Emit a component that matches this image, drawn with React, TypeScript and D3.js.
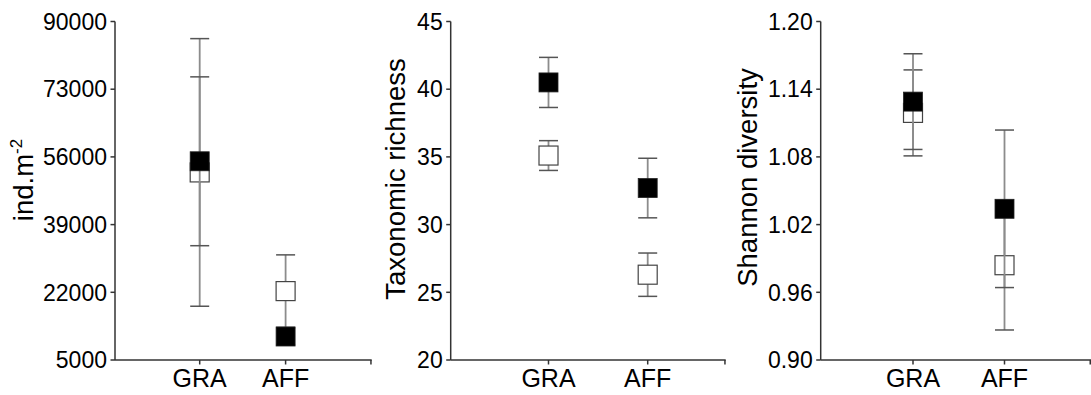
import React from "react";
import * as d3 from "d3";

const categories = ["GRA", "AFF"];

// Panel 1: density (ind.m-2)
const densityTicks = [5000, 22000, 39000, 56000, 73000, 90000];
const densityBlackMean = [54900, 10900];
const densityBlackErr = [21200, 2000];
const densityWhiteMean = [52100, 22300];
const densityWhiteErr = [33600, 9100];

// Panel 2: taxonomic richness
const richnessTicks = [20, 25, 30, 35, 40, 45];
const richnessBlackMean = [40.5, 32.7];
const richnessBlackErr = [1.85, 2.2];
const richnessWhiteMean = [35.1, 26.3];
const richnessWhiteErr = [1.1, 1.6];

// Panel 3: Shannon diversity
const shannonTicks = [0.9, 0.96, 1.02, 1.08, 1.14, 1.2];
const shannonBlackMean = [1.129, 1.034];
const shannonBlackErr = [0.0424, 0.0698];
const shannonWhiteMean = [1.119, 0.984];
const shannonWhiteErr = [0.0381, 0.0574];

const FONT = "'Liberation Sans', Arial, Helvetica, sans-serif";
const Y_TOP = 21.5;
const Y_BOT = 360;
const SQ = 19;
const CAP = 19;

type PanelProps = {
  axisX: number;
  axisEnd: number;
  catRange: [number, number];
  ticks: number[];
  fmt: (v: number) => string;
  blackMean: number[];
  blackErr: number[];
  whiteMean: number[];
  whiteErr: number[];
  label: React.ReactNode;
  labelX: number;
  labelY: number;
};

function ErrorBar({ x, y0, y1 }: { x: number; y0: number; y1: number }) {
  return (
    <g>
      <line x1={x} x2={x} y1={y0} y2={y1} stroke="#8c8c8c" strokeWidth={1.8} />
      <line x1={x - CAP / 2} x2={x + CAP / 2} y1={y0} y2={y0} stroke="#555" strokeWidth={1.5} />
      <line x1={x - CAP / 2} x2={x + CAP / 2} y1={y1} y2={y1} stroke="#555" strokeWidth={1.5} />
    </g>
  );
}

function Panel(p: PanelProps) {
  const domain = [p.ticks[0], p.ticks[p.ticks.length - 1]];
  const y = d3.scaleLinear().domain(domain).range([Y_BOT, Y_TOP]);
  const x = d3.scalePoint<string>().domain(categories).range(p.catRange);
  return (
    <g>
      {/* y axis */}
      <line x1={p.axisX} x2={p.axisX} y1={Y_TOP} y2={Y_BOT} stroke="#333" strokeWidth={1.5} />
      {p.ticks.map((t) => (
        <g key={t}>
          <line x1={p.axisX - 4.5} x2={p.axisX} y1={y(t)} y2={y(t)} stroke="#333" strokeWidth={1.5} />
          <text
            x={p.axisX - 8}
            y={y(t)}
            dy="0.36em"
            textAnchor="end"
            fontFamily={FONT}
            fontSize={23}
            fill="#000"
          >
            {p.fmt(t)}
          </text>
        </g>
      ))}
      {/* x axis */}
      <line x1={p.axisX} x2={p.axisEnd} y1={Y_BOT} y2={Y_BOT} stroke="#333" strokeWidth={1.5} />
      <line x1={p.axisEnd - 0.75} x2={p.axisEnd - 0.75} y1={Y_BOT} y2={Y_BOT + 4.5} stroke="#333" strokeWidth={1.5} />
      {categories.map((c) => (
        <g key={c}>
          <line x1={x(c)!} x2={x(c)!} y1={Y_BOT} y2={Y_BOT + 4.5} stroke="#333" strokeWidth={1.5} />
          <text x={x(c)!} y={Y_BOT + 27} textAnchor="middle" fontFamily={FONT} fontSize={25} fill="#000">
            {c}
          </text>
        </g>
      ))}
      {/* white series */}
      {categories.map((c, i) => (
        <ErrorBar
          key={"we" + c}
          x={x(c)!}
          y0={y(p.whiteMean[i] + p.whiteErr[i])}
          y1={y(p.whiteMean[i] - p.whiteErr[i])}
        />
      ))}
      {categories.map((c, i) => (
        <rect
          key={"ws" + c}
          x={x(c)! - SQ / 2}
          y={y(p.whiteMean[i]) - SQ / 2}
          width={SQ}
          height={SQ}
          fill="#fff"
          stroke="#444"
          strokeWidth={1.2}
        />
      ))}
      {/* black series */}
      {categories.map((c, i) => (
        <ErrorBar
          key={"be" + c}
          x={x(c)!}
          y0={y(p.blackMean[i] + p.blackErr[i])}
          y1={y(p.blackMean[i] - p.blackErr[i])}
        />
      ))}
      {categories.map((c, i) => (
        <rect
          key={"bs" + c}
          x={x(c)! - SQ / 2}
          y={y(p.blackMean[i]) - SQ / 2}
          width={SQ}
          height={SQ}
          fill="#000"
          stroke="#222"
          strokeWidth={0.8}
        />
      ))}
      <text
        transform={`translate(${p.labelX},${p.labelY}) rotate(-90)`}
        textAnchor="middle"
        fontFamily={FONT}
        fontSize={27.5}
        fill="#000"
      >
        {p.label}
      </text>
    </g>
  );
}

export default function App() {
  return (
    <svg
      width={1091}
      height={395}
      style={{ position: "absolute", left: 0, top: 0, background: "#fff" }}
    >
      <rect width={1091} height={395} fill="#fff" />
      <Panel
        axisX={115}
        axisEnd={371.7}
        catRange={[199.7, 285.6]}
        ticks={densityTicks}
        fmt={(v) => String(v)}
        blackMean={densityBlackMean}
        blackErr={densityBlackErr}
        whiteMean={densityWhiteMean}
        whiteErr={densityWhiteErr}
        label={
          <>
            <tspan>ind.m</tspan>
            <tspan fontSize={17} dy={-11}>-2</tspan>
          </>
        }
        labelX={33}
        labelY={180}
      />
      <Panel
        axisX={450.7}
        axisEnd={725.7}
        catRange={[548.5, 647.7]}
        ticks={richnessTicks}
        fmt={(v) => String(v)}
        blackMean={richnessBlackMean}
        blackErr={richnessBlackErr}
        whiteMean={richnessWhiteMean}
        whiteErr={richnessWhiteErr}
        label="Taxonomic richness"
        labelX={405}
        labelY={179}
      />
      <Panel
        axisX={820.7}
        axisEnd={1091}
        catRange={[913, 1004.5]}
        ticks={shannonTicks}
        fmt={(v) => v.toFixed(2)}
        blackMean={shannonBlackMean}
        blackErr={shannonBlackErr}
        whiteMean={shannonWhiteMean}
        whiteErr={shannonWhiteErr}
        label="Shannon diversity"
        labelX={757}
        labelY={177.5}
      />
    </svg>
  );
}
